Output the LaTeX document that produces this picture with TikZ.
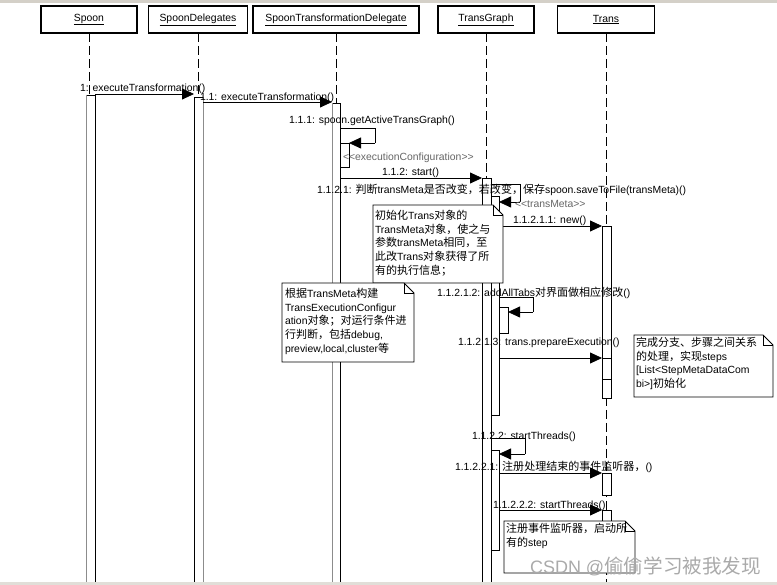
\documentclass[tikz,border=0pt]{standalone}
\usepackage{fontspec}
\setmainfont{Liberation Sans}
\newfontfamily\cjkf{Noto Sans CJK SC}[Scale=1.06]
\newcommand{\cj}[1]{{\cjkf #1}}
\usetikzlibrary{arrows.meta}
\definecolor{edgegray}{gray}{0.55}
\definecolor{wingray}{RGB}{212,208,200}
\definecolor{retgray}{gray}{0.4}
\definecolor{wmark}{RGB}{170,170,170}
\newcommand{\notebox}[5]{%
  \path[fill=white] (#2,#3) -- ({#4-10},#3) -- (#4,{#3+10}) -- (#4,#5) -- (#2,#5) -- cycle;
  \draw[notel] (#2,#3) -- ({#4-10},#3) -- (#4,{#3+10}) -- (#4,#5) -- (#2,#5) -- cycle;
  \draw[notel] ({#4-10},#3) -- ({#4-10},{#3+10}) -- (#4,{#3+10});
  \coordinate (#1) at (#2,#3);
}
\begin{document}
\begin{tikzpicture}[x=1pt,y=-1pt,
  every node/.style={inner sep=0pt,outer sep=0pt},
  txt/.style={font=\fontsize{10.4}{13.8}\selectfont},
  lbl/.style={txt,anchor=base west},
  ret/.style={lbl,text=retgray},
  head/.style={draw,line width=1.4pt,fill=white,minimum height=27pt,txt},
  life/.style={dash pattern=on 9pt off 4pt,line width=0.8pt},
  msg/.style={line width=0.8pt,-{Triangle[length=12pt,width=11pt]}},
  selfl/.style={line width=0.8pt},
  bar/.style={draw,fill=white,line width=0.8pt},
  grayedge/.style={draw=edgegray,line width=0.8pt},
  notel/.style={line width=0.8pt},
  notetxt/.style={txt,anchor=north west,align=left}
]
\useasboundingbox (0,0) rectangle (777,585);
\fill[white] (0,0) rectangle (777,585);
\fill[wingray] (0,0) rectangle (777,3);

% lifeline heads
\node[head,minimum width=96pt]  (spoon) at (89,19.5)  {\underline{Spoon}};
\node[head,minimum width=99pt]  (sd)    at (198,19.5) {\underline{SpoonDelegates}};
\node[head,minimum width=166pt] (std)   at (336,19.5) {\underline{SpoonTransformationDelegate}};
\node[head,minimum width=96pt]  (tg)    at (486,19.5) {\underline{TransGraph}};
\node[head,minimum width=97pt]  (tr)    at (606,19.5) {\underline{Trans}};

% lifeline ends
\coordinate (spoonB) at (89,582);
\coordinate (sdB) at (198,582);
\coordinate (stdB) at (336,582);
\coordinate (tgB) at (486,582);
\coordinate (trB) at (606,582);
\draw[life] (spoon) -- (spoonB);
\draw[life] (sd) -- (sdB);
\draw[life] (std) -- (stdB);
\draw[life] (tg) -- (tgB);
\draw[life] (tr) -- (trB);

% activation bars
\draw[bar] (86,95) rectangle (95,582);   \draw[grayedge] (86,95) -- (86,582);
\draw[bar] (194,97) rectangle (203,582); \draw[grayedge] (203,97) -- (203,582);
\draw[bar] (332,103) rectangle (340,582); \draw[grayedge] (332,103) -- (332,582);
\draw[bar] (340,143) rectangle (349,167);
\draw[bar] (482,178) rectangle (491,582);
\draw[bar] (491,196) rectangle (499,415);
\draw[bar] (499,307) rectangle (508,333);
\draw[bar] (491,450) rectangle (499,550);
\draw[bar] (602,226) rectangle (611,398);
\draw[bar] (602,358) rectangle (611,379);
\draw[bar] (602,473) rectangle (611,495);
\draw[bar] (602,510) rectangle (611,540);

% message end points
\coordinate (m1s) at (95,94);    \coordinate (m1e) at (194,94);
\coordinate (m11s) at (203,102); \coordinate (m11e) at (332,102);
\coordinate (s111a) at (340,128); \coordinate (s111b) at (375,128);
\coordinate (s111c) at (375,143); \coordinate (s111e) at (349,143);
\coordinate (m112s) at (340,178); \coordinate (m112e) at (482,178);
\coordinate (s1121a) at (491,184); \coordinate (s1121b) at (520,184);
\coordinate (s1121c) at (520,202); \coordinate (s1121e) at (499,202);
\coordinate (m11211s) at (499,226); \coordinate (m11211e) at (602,226);
\coordinate (s11212a) at (499,297); \coordinate (s11212b) at (533,297);
\coordinate (s11212c) at (533,312); \coordinate (s11212e) at (508,312);
\coordinate (m11213s) at (499,358); \coordinate (m11213e) at (602,358);
\coordinate (s1122a) at (491,438); \coordinate (s1122b) at (525,438);
\coordinate (s1122c) at (525,454); \coordinate (s1122e) at (499,454);
\coordinate (m11221s) at (499,473); \coordinate (m11221e) at (602,473);
\coordinate (m11222s) at (499,510); \coordinate (m11222e) at (602,510);

% messages
\draw[msg] (m1s) -- (m1e);
\draw[msg] (m11s) -- (m11e);
\draw[selfl] (s111a) -- (s111b) -- (s111c);
\draw[msg] (s111c) -- (s111e);
\draw[msg] (m112s) -- (m112e);
\draw[selfl] (s1121a) -- (s1121b) -- (s1121c);
\draw[msg] (s1121c) -- (s1121e);
\draw[msg] (m11211s) -- (m11211e);
\draw[selfl] (s11212a) -- (s11212b) -- (s11212c);
\draw[msg] (s11212c) -- (s11212e);
\draw[msg] (m11213s) -- (m11213e);
\draw[selfl] (s1122a) -- (s1122b) -- (s1122c);
\draw[msg] (s1122c) -- (s1122e);
\draw[msg] (m11221s) -- (m11221e);
\draw[msg] (m11222s) -- (m11222e);

% notes
\notebox{n1}{373}{205}{503}{283}
\node[notetxt] (n1t) at (375,210) {\cj{初始化}Trans\cj{对象的}\\TransMeta\cj{对象，使之与}\\\cj{参数}transMeta\cj{相同，至}\\\cj{此改}Trans\cj{对象获得了所}\\\cj{有的执行信息；}};
\notebox{n2}{282}{283}{414}{362}
\node[notetxt] (n2t) at (285,288) {\cj{根据}TransMeta\cj{构建}\\TransExecutionConfigur\\ation\cj{对象；对运行条件进}\\\cj{行判断，包括}debug,\\preview,local,cluster\cj{等}};
\notebox{n3}{634}{335}{773}{397}
\node[notetxt] (n3t) at (636,337) {\cj{完成分支、步骤之间关系}\\\cj{的处理，实现}steps\\[0pt][List<StepMetaDataCom\\bi>]\cj{初始化}};
\notebox{n4}{504}{521}{635}{573}
\node[notetxt] (n4t) at (506,523) {\cj{注册事件监听器，启动所}\\\cj{有的}step};

% labels
\node[lbl] (l1) at (80,92) {1: executeTransformation()};
\node[lbl] (l11) at (200,101) {1.1: executeTransformation()};
\node[lbl] (l111) at (289,124) {1.1.1: spoon.getActiveTransGraph()};
\node[ret] (r111) at (343,161) {<\kern0pt<executionConfiguration>\kern0pt>};
\node[lbl] (l112) at (382,176) {1.1.2: start()};
\node[lbl] (l1121) at (317,194) {1.1.2.1: \cj{判断}transMeta\cj{是否改变，若改变，保存}spoon.saveToFile(transMeta)()};
\node[ret] (r1121) at (515,208) {<\kern0pt<transMeta>\kern0pt>};
\node[lbl] (l11211) at (513,224) {1.1.2.1.1: new()};
\node[lbl] (l11212) at (437,297) {1.1.2.1.2: addAllTabs\cj{对界面做相应修改}()};
\node[lbl] (l11213) at (458,346) {1.1.2.1.3: trans.prepareExecution()};
\node[lbl] (l1122) at (472,439) {1.1.2.2: startThreads()};
\node[lbl] (l11221) at (455,471) {1.1.2.2.1: \cj{注册处理结束的事件监听器，}()};
\node[lbl] (l11222) at (493,508) {1.1.2.2.2: startThreads()};

% bottom strip and watermark
\fill[wingray!70!white] (0,582) rectangle (777,585);
\node[anchor=base west,text=wmark] (wm) at (530,573) {\fontsize{18}{20}\selectfont CSDN @{\cjkf\fontsize{18.5}{20}\selectfont 偷偷学习被我发现}};
\end{tikzpicture}
\end{document}
